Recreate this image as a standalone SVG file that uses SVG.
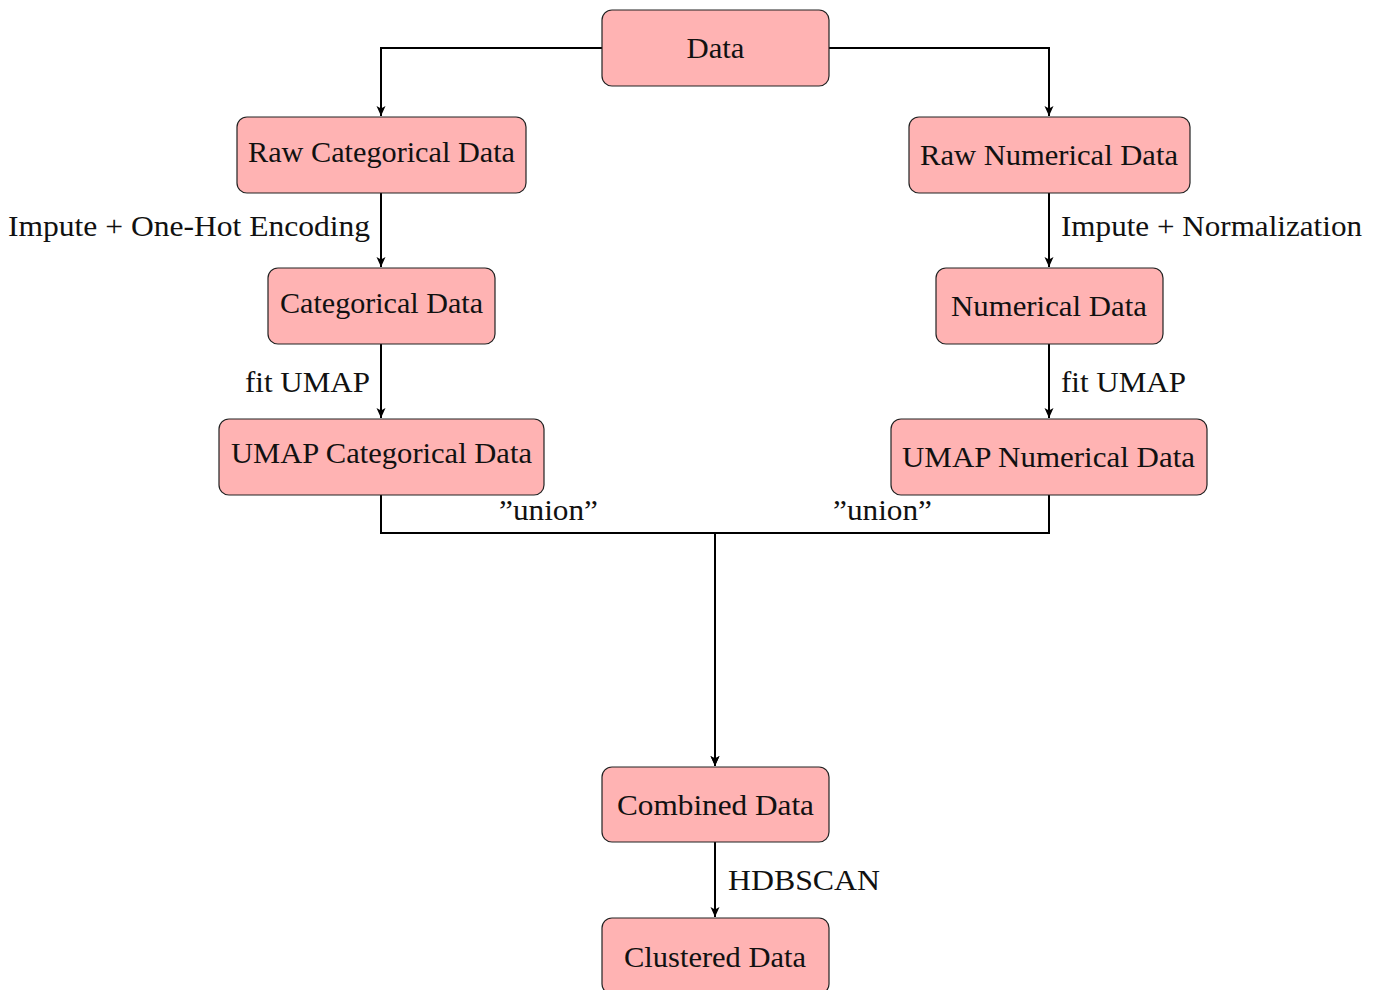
<svg xmlns="http://www.w3.org/2000/svg" width="1380" height="990" viewBox="0 0 1380 990">
<defs>
<marker id="arr" viewBox="0 0 10 10" refX="10" refY="5" markerWidth="10" markerHeight="10" markerUnits="userSpaceOnUse" orient="auto">
<path d="M0,0.5 L10,5 L0,9.5 L2.5,5 z" fill="#000"/>
</marker>
</defs>
<style>
.box{fill:#FFB3B3;stroke:#222;stroke-width:1.2}
.t{font-family:"Liberation Serif",serif;font-size:30px;fill:#111}
.c{text-anchor:middle}
.e{text-anchor:end}
.ln{fill:none;stroke:#000;stroke-width:2}
</style>
<rect width="1380" height="990" fill="#fff"/>
<g id="connectors">
<path class="ln" d="M602,48 H381 V116" marker-end="url(#arr)"/>
<path class="ln" d="M829,48 H1049 V116" marker-end="url(#arr)"/>
<path class="ln" d="M381,193 V267" marker-end="url(#arr)"/>
<path class="ln" d="M1049,193 V267" marker-end="url(#arr)"/>
<path class="ln" d="M381,344 V418" marker-end="url(#arr)"/>
<path class="ln" d="M1049,344 V418" marker-end="url(#arr)"/>
<path class="ln" d="M381,495 V533 H715 V766" marker-end="url(#arr)"/>
<path class="ln" d="M1049,495 V533 H715 V766" marker-end="url(#arr)"/>
<path class="ln" d="M715,842 V917" marker-end="url(#arr)"/>
<text class="t e" x="370" y="236" textLength="362" lengthAdjust="spacingAndGlyphs">Impute + One-Hot Encoding</text>
<text class="t" x="1061" y="236" textLength="301" lengthAdjust="spacingAndGlyphs">Impute + Normalization</text>
<text class="t e" x="370" y="392" textLength="125" lengthAdjust="spacingAndGlyphs">fit UMAP</text>
<text class="t" x="1061" y="392" textLength="125" lengthAdjust="spacingAndGlyphs">fit UMAP</text>
<text class="t" x="499" y="520" textLength="99" lengthAdjust="spacingAndGlyphs">”union”</text>
<text class="t" x="833" y="520" textLength="99" lengthAdjust="spacingAndGlyphs">”union”</text>
<text class="t" x="728" y="890" textLength="152" lengthAdjust="spacingAndGlyphs">HDBSCAN</text>
</g>
<g id="data"><rect class="box" x="602" y="10" width="227" height="76" rx="10"/><text class="t c" x="715.5" y="58" textLength="58" lengthAdjust="spacingAndGlyphs">Data</text></g>
<g id="rawcat"><rect class="box" x="237" y="117" width="289" height="76" rx="10"/><text class="t c" x="381.5" y="162" textLength="267" lengthAdjust="spacingAndGlyphs">Raw Categorical Data</text></g>
<g id="rawnum"><rect class="box" x="909" y="117" width="281" height="76" rx="10"/><text class="t c" x="1049" y="165" textLength="258" lengthAdjust="spacingAndGlyphs">Raw Numerical Data</text></g>
<g id="cat"><rect class="box" x="268" y="268" width="227" height="76" rx="10"/><text class="t c" x="381.5" y="313" textLength="203" lengthAdjust="spacingAndGlyphs">Categorical Data</text></g>
<g id="num"><rect class="box" x="936" y="268" width="227" height="76" rx="10"/><text class="t c" x="1049" y="316" textLength="196" lengthAdjust="spacingAndGlyphs">Numerical Data</text></g>
<g id="umapcat"><rect class="box" x="219" y="419" width="325" height="76" rx="10"/><text class="t c" x="381.5" y="463" textLength="301" lengthAdjust="spacingAndGlyphs">UMAP Categorical Data</text></g>
<g id="umapnum"><rect class="box" x="891" y="419" width="316" height="76" rx="10"/><text class="t c" x="1048.5" y="467" textLength="293" lengthAdjust="spacingAndGlyphs">UMAP Numerical Data</text></g>
<g id="combined"><rect class="box" x="602" y="767" width="227" height="75" rx="10"/><text class="t c" x="715.5" y="815" textLength="197" lengthAdjust="spacingAndGlyphs">Combined Data</text></g>
<g id="clustered"><rect class="box" x="602" y="918" width="227" height="76" rx="10"/><text class="t c" x="715" y="967" textLength="182" lengthAdjust="spacingAndGlyphs">Clustered Data</text></g>
</svg>
